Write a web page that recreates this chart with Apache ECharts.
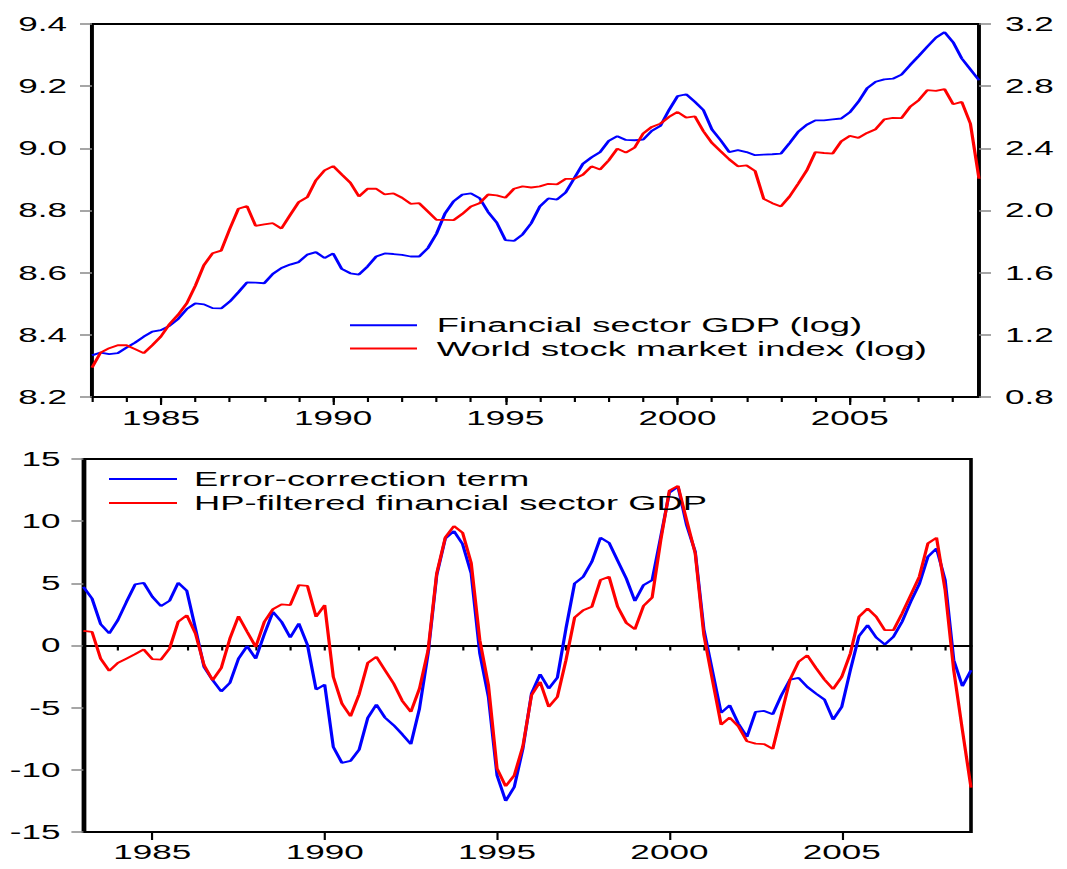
<!DOCTYPE html>
<html>
<head>
<meta charset="utf-8">
<script src="https://cdn.jsdelivr.net/npm/echarts@6/dist/echarts.min.js"></script>
<style>
html,body{margin:0;padding:0;background:#fff;}
#wrap{width:1067px;height:869px;overflow:hidden;position:relative;background:#fff;}
#chart{width:593px;height:869px;transform-origin:0 0;}
</style>
</head>
<body>
<div id="wrap"><div id="chart"></div></div>
<script>
// ---------------- data (quarterly, 1983Q1 - 2008Q4) ----------------
const startYear = 1983;
const endYear = 2008;
const labelYears = ['1985', '1990', '1995', '2000', '2005'];

const finGDP = [8.334,8.343,8.338,8.341,8.359,8.375,8.394,8.410,8.415,8.429,8.451,8.483,8.501,8.498,8.486,8.485,
8.507,8.537,8.569,8.568,8.566,8.596,8.615,8.626,8.634,8.658,8.666,8.647,8.662,8.612,8.598,8.594,
8.620,8.652,8.662,8.660,8.657,8.652,8.652,8.679,8.725,8.791,8.830,8.851,8.855,8.840,8.795,8.761,
8.705,8.702,8.723,8.759,8.813,8.839,8.835,8.858,8.904,8.950,8.971,8.988,9.024,9.039,9.027,9.026,
9.028,9.056,9.072,9.123,9.168,9.174,9.150,9.123,9.060,9.026,8.988,8.994,8.988,8.978,8.980,8.981,
8.983,9.017,9.053,9.076,9.090,9.090,9.093,9.096,9.116,9.150,9.193,9.214,9.222,9.224,9.237,9.268,
9.297,9.327,9.356,9.374,9.341,9.289,9.254,9.219];

const worldStock = [0.989,1.086,1.114,1.133,1.133,1.108,1.082,1.133,1.189,1.269,1.329,1.402,1.516,1.649,1.725,1.742,
1.882,2.011,2.028,1.901,1.910,1.918,1.884,1.970,2.054,2.086,2.194,2.258,2.286,2.232,2.179,2.090,
2.140,2.140,2.103,2.110,2.082,2.043,2.047,1.994,1.940,1.940,1.938,1.978,2.026,2.047,2.103,2.097,
2.082,2.140,2.155,2.148,2.155,2.172,2.168,2.204,2.204,2.230,2.284,2.264,2.323,2.398,2.372,2.404,
2.495,2.538,2.559,2.602,2.634,2.598,2.606,2.510,2.434,2.381,2.329,2.284,2.290,2.254,2.075,2.047,
2.026,2.090,2.172,2.258,2.376,2.370,2.366,2.445,2.480,2.467,2.499,2.523,2.587,2.596,2.594,2.667,
2.710,2.774,2.770,2.781,2.684,2.699,2.559,2.204];

const ectTerm = [4.72,3.78,1.72,0.97,2.04,3.51,4.91,5.04,3.92,3.17,3.60,5.04,4.40,1.37,-1.72,-2.79,
-3.70,-3.01,-1.05,-0.05,-1.05,0.91,2.71,1.90,0.64,1.77,0.05,-3.54,-3.14,-8.16,-9.44,-9.28,
-8.37,-5.82,-4.75,-5.80,-6.41,-7.14,-7.94,-5.07,-0.64,5.66,8.61,9.20,8.16,5.80,-0.64,-4.13,
-10.44,-12.50,-11.38,-8.29,-3.86,-2.31,-3.46,-2.58,1.37,4.99,5.53,6.73,8.67,8.26,6.82,5.39,
3.57,4.86,5.26,8.75,12.29,12.77,9.69,7.54,1.30,-2.05,-5.42,-4.80,-6.28,-7.35,-5.34,-5.26,
-5.53,-4.00,-2.74,-2.60,-3.33,-3.86,-4.35,-5.96,-4.94,-1.99,0.75,1.64,0.64,0.08,0.70,1.91,
3.51,4.94,7.14,7.81,5.26,-1.18,-3.27,-1.99];

const hpFiltered = [1.18,1.10,-1.05,-2.04,-1.40,-1.05,-0.70,-0.32,-1.10,-1.13,-0.24,1.91,2.44,0.97,-1.58,-2.79,
-1.80,0.56,2.36,1.10,-0.11,1.91,2.92,3.30,3.25,4.86,4.80,2.31,3.25,-2.52,-4.67,-5.69,
-3.92,-1.40,-0.91,-1.99,-3.06,-4.45,-5.34,-3.46,-0.38,5.80,8.69,9.61,9.07,6.65,0.43,-3.19,
-9.90,-11.32,-10.44,-8.10,-4.00,-2.92,-4.94,-4.13,-1.18,2.25,2.84,3.11,5.26,5.53,3.11,1.82,
1.31,3.19,3.86,8.48,12.45,12.83,10.09,7.41,0.85,-2.79,-6.37,-5.80,-6.49,-7.70,-7.89,-7.94,
-8.32,-5.53,-2.74,-1.31,-0.78,-1.80,-2.74,-3.51,-2.52,-0.64,2.31,2.98,2.31,1.23,1.23,2.58,
4.05,5.53,8.21,8.67,4.45,-2.00,-6.80,-11.43];

const quarters = [];
for (let y = startYear; y <= endYear; y++) {
  for (let q = 1; q <= 4; q++) quarters.push(y + 'Q' + q);
}

// ---------------- layout (the reference is horizontally stretched) ----------------
const CW = 593;
const S = 1067 / CW;
document.getElementById('chart').style.transform = 'scaleX(' + S + ')';
const px = v => v / S;

const FONT = 'Liberation Sans, Arial, Helvetica, sans-serif';
const FS = 19.5;
const LFS = 20.2;
const LW = 1.8;

const yearTick = (i, v) => String(v).endsWith('Q1');
const majorTick = (i, v) => String(v).endsWith('Q1') && labelYears.includes(String(v).slice(0, 4));

function xAxes(gridIndex, labelMargin) {
  return [
    {
      gridIndex, type: 'category', data: quarters, boundaryGap: false, position: 'bottom',
      axisLine: { show: true, lineStyle: { color: '#000', width: 2 } },
      axisTick: { show: true, interval: yearTick, length: 5, lineStyle: { color: '#000', width: 1.2 } },
      axisLabel: { show: false },
      splitLine: { show: false }
    },
    {
      gridIndex, type: 'category', data: quarters, boundaryGap: false, position: 'bottom',
      axisLine: { show: false },
      axisTick: { show: true, interval: majorTick, length: 8, lineStyle: { color: '#000', width: 1.2 } },
      axisLabel: {
        show: true, interval: majorTick, margin: labelMargin,
        formatter: v => String(v).slice(0, 4),
        color: '#000', fontSize: FS, fontFamily: FONT
      },
      splitLine: { show: false }
    }
  ];
}

function yAxis(gridIndex, position, min, max, interval, decimals, margin) {
  return {
    gridIndex, type: 'value', position, min, max, interval,
    axisLine: { show: true, lineStyle: { color: '#000', width: 2 } },
    axisTick: { show: true, length: px(12), lineStyle: { color: '#888', width: 1.5 } },
    axisLabel: {
      show: true, margin, color: '#000', fontSize: FS, fontFamily: FONT,
      formatter: v => Number(v).toFixed(decimals)
    },
    splitLine: { show: false }
  };
}

const option = {
  animation: false,
  backgroundColor: '#fff',
  grid: [
    { left: px(92), right: CW - px(979), top: 24, bottom: 869 - 397, show: true, borderColor: '#000', borderWidth: 2, containLabel: false },
    { left: px(83.4), right: CW - px(971), top: 459, bottom: 869 - 832, show: true, borderColor: '#000', borderWidth: 2, containLabel: false }
  ],
  xAxis: [].concat(xAxes(0, 11), xAxes(1, 10)),
  yAxis: [
    yAxis(0, 'left', 8.2, 9.4, 0.2, 1, px(25)),
    yAxis(0, 'right', 0.8, 3.2, 0.4, 1, px(26)),
    yAxis(1, 'left', -15, 15, 5, 0, px(23))
  ],
  legend: [
    {
      data: ['Financial sector GDP (log)', 'World stock market index (log)'],
      orient: 'vertical', left: px(350), top: 313.5, padding: 0,
      icon: 'rect', itemWidth: px(67), itemHeight: 2, itemGap: 0,
      textStyle: { color: '#000', fontSize: LFS, fontFamily: FONT, lineHeight: 23.3, padding: [0, 0, 0, 6] },
      selectedMode: false
    },
    {
      data: ['Error-correction term', 'HP-filtered financial sector GDP'],
      orient: 'vertical', left: px(109), top: 467, padding: 0,
      icon: 'rect', itemWidth: px(68), itemHeight: 2, itemGap: 0,
      textStyle: { color: '#000', fontSize: LFS, fontFamily: FONT, lineHeight: 24, padding: [0, 0, 0, 4.5] },
      selectedMode: false
    }
  ],
  series: [
    {
      name: 'Financial sector GDP (log)', type: 'line', xAxisIndex: 0, yAxisIndex: 0,
      data: finGDP, symbol: 'none', color: '#0000ff',
      lineStyle: { color: '#0000ff', width: LW }
    },
    {
      name: 'World stock market index (log)', type: 'line', xAxisIndex: 0, yAxisIndex: 1,
      data: worldStock, symbol: 'none', color: '#ff0000',
      lineStyle: { color: '#ff0000', width: LW }
    },
    {
      name: 'Error-correction term', type: 'line', xAxisIndex: 2, yAxisIndex: 2,
      data: ectTerm, symbol: 'none', color: '#0000ff',
      lineStyle: { color: '#0000ff', width: LW },
      markLine: {
        silent: true, symbol: 'none', label: { show: false }, z: 1,
        lineStyle: { color: '#000', width: 1, type: 'solid' },
        data: [{ yAxis: 0 }]
      }
    },
    {
      name: 'HP-filtered financial sector GDP', type: 'line', xAxisIndex: 2, yAxisIndex: 2,
      data: hpFiltered, symbol: 'none', color: '#ff0000',
      lineStyle: { color: '#ff0000', width: LW }
    }
  ]
};

const chart = echarts.init(document.getElementById('chart'), null, { renderer: 'svg' });
chart.setOption(option);
</script>
</body>
</html>
